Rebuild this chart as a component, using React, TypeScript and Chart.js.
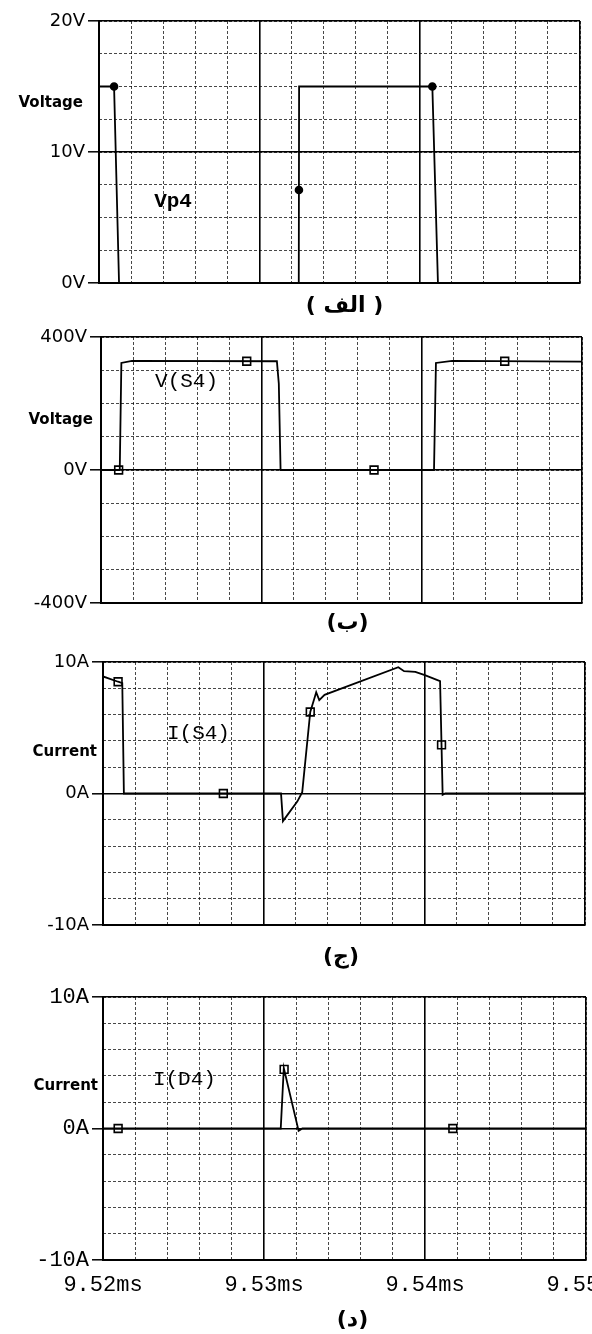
import React, { useEffect, useRef } from 'react';
import { Chart, registerables } from 'chart.js';

Chart.register(...registerables);

// ---------- shared time axis (ms) ----------
const timeMin = 9.52;
const timeMax = 9.55;
const timeTicks = [9.52, 9.53, 9.54, 9.55];
const timeMinorTicks = [9.52, 9.522, 9.524, 9.526, 9.528, 9.53, 9.532, 9.534, 9.536, 9.538, 9.54, 9.542, 9.544, 9.546, 9.548, 9.55];

// ---------- (الف) gate voltage Vp4 ----------
const vp4Time = [9.52, 9.52094, 9.52125, 9.53246, 9.53248, 9.54079, 9.54114, 9.55];
const vp4Volts = [15, 15, 0, 0, 15, 15, 0, 0];
const vp4MarkerTime = [9.52094, 9.53247, 9.54079];
const vp4MarkerVolts = [15, 7.1, 15];
const vp4Ticks = [0, 10, 20];
const vp4MinorTicks = [0, 2.5, 5, 7.5, 10, 12.5, 15, 17.5, 20];

// ---------- (ب) switch voltage V(S4) ----------
const vs4Time = [9.52, 9.52117, 9.52127, 9.52193, 9.53097, 9.53109, 9.5312, 9.54077, 9.54089, 9.5419, 9.55];
const vs4Volts = [0, 0, 322, 328, 327, 260, 0, 0, 322, 328, 326];
const vs4MarkerTime = [9.5211, 9.52909, 9.53703, 9.54518];
const vs4MarkerVolts = [0, 327, 0, 327];
const vs4Ticks = [-400, 0, 400];
const vs4MinorTicks = [-400, -300, -200, -100, 0, 100, 200, 300, 400];

// ---------- (ج) switch current I(S4) ----------
const is4Time = [9.52, 9.52094, 9.5212, 9.5213, 9.53108, 9.5312, 9.5321, 9.5324, 9.5329, 9.53315, 9.53327, 9.53346, 9.53379, 9.53838, 9.53874, 9.53944, 9.54003, 9.54098, 9.54114, 9.5413, 9.55];
const is4Amps = [8.9, 8.5, 8.4, 0, 0, -2.1, -0.6, 0.1, 6.2, 7.2, 7.7, 7.1, 7.5, 9.6, 9.3, 9.25, 9.0, 8.55, -0.1, 0, 0];
const is4MarkerTime = [9.52094, 9.52749, 9.5329, 9.54107];
const is4MarkerAmps = [8.5, 0, 6.2, 3.7];
const is4Ticks = [-10, 0, 10];
const is4MinorTicks = [-10, -8, -6, -4, -2, 0, 2, 4, 6, 8, 10];

// ---------- (د) diode current I(D4) ----------
const id4Time = [9.52, 9.53104, 9.53123, 9.53215, 9.53238, 9.55];
const id4Amps = [0, 0, 4.6, -0.18, 0, 0];
const id4MarkerTime = [9.52094, 9.53125, 9.54173];
const id4MarkerAmps = [0, 4.5, 0];
const id4Ticks = [-10, 0, 10];
const id4MinorTicks = [-10, -8, -6, -4, -2, 0, 2, 4, 6, 8, 10];

const INK = '#000';
const SANS = '"DejaVu Sans", sans-serif';
const MONO = '"Liberation Mono", "DejaVu Sans Mono", monospace';
const CANVAS_W = 640;

const decorPlugin = {
  id: 'decor',
  afterDraw(chart: any, _args: any, opts: any) {
    const { ctx, chartArea, scales } = chart;
    ctx.save();
    ctx.fillStyle = INK;
    // horizontal axis title
    ctx.font = `bold 15px ${SANS}`;
    ctx.textAlign = 'right';
    ctx.textBaseline = 'middle';
    ctx.fillText(opts.axisTitle, opts.axisTitleRight, chartArea.top + opts.axisTitleDy);
    // trace name
    ctx.font = opts.traceFont;
    ctx.textAlign = 'left';
    ctx.fillText(
      opts.traceLabel,
      scales.x.getPixelForValue(opts.traceAtX),
      scales.y.getPixelForValue(opts.traceAtY)
    );
    // caption
    ctx.font = `bold 22px ${SANS}`;
    ctx.textAlign = 'center';
    ctx.fillText(
      opts.caption,
      (chartArea.left + chartArea.right) / 2 + opts.captionDx,
      chartArea.bottom + opts.captionDy
    );
    ctx.restore();
  },
};

type PanelCfg = {
  time: number[];
  values: number[];
  markerTime: number[];
  markerValues: number[];
  ticks: number[];
  minorTicks: number[];
  unit: string;
  markerStyle: string;
  markerRadius: number;
  markerFill: string;
  canvasTop: number;
  canvasHeight: number;
  left: number;
  right: number;
  padTop: number;
  padBottom: number;
  showTime: boolean;
  yFont: any;
  axisTitle: string;
  axisTitleRight: number;
  axisTitleDy: number;
  traceLabel: string;
  traceFont: string;
  traceAtX: number;
  traceAtY: number;
  caption: string;
  captionDx: number;
  captionDy: number;
};

const setTicks = (arr: number[]) => (scale: any) => {
  scale.ticks = arr.map((v) => ({ value: v }));
};

function makeConfig(p: PanelCfg): any {
  const yMin = p.ticks[0];
  const yMax = p.ticks[p.ticks.length - 1];
  const minorGrid = { color: 'rgba(0,0,0,0.72)', lineWidth: 1, drawTicks: false };
  const minorBorder = { display: false, dash: [3, 2] };
  return {
    type: 'scatter',
    data: {
      datasets: [
        {
          data: p.time.map((t, i) => ({ x: t, y: p.values[i] })),
          showLine: true,
          borderColor: INK,
          borderWidth: 1.8,
          pointRadius: 0,
          tension: 0,
          xAxisID: 'x',
          yAxisID: 'y',
        },
        {
          data: p.markerTime.map((t, i) => ({ x: t, y: p.markerValues[i] })),
          showLine: false,
          pointStyle: p.markerStyle,
          pointRadius: p.markerRadius,
          borderColor: INK,
          backgroundColor: p.markerFill,
          borderWidth: 1.6,
          xAxisID: 'x',
          yAxisID: 'y',
        },
      ],
    },
    options: {
      responsive: false,
      animation: false,
      events: [],
      layout: { padding: { top: p.padTop, bottom: p.padBottom, left: 0, right: CANVAS_W - p.right } },
      plugins: {
        legend: { display: false },
        tooltip: { enabled: false },
        decor: {
          axisTitle: p.axisTitle,
          axisTitleRight: p.axisTitleRight,
          axisTitleDy: p.axisTitleDy,
          traceLabel: p.traceLabel,
          traceFont: p.traceFont,
          traceAtX: p.traceAtX,
          traceAtY: p.traceAtY,
          caption: p.caption,
          captionDx: p.captionDx,
          captionDy: p.captionDy,
        },
      },
      scales: {
        x: {
          type: 'linear',
          position: 'bottom',
          min: timeMin,
          max: timeMax,
          afterBuildTicks: setTicks(timeTicks),
          afterFit: p.showTime ? (s: any) => { s.height = 40; } : undefined,
          ticks: {
            display: p.showTime,
            autoSkip: false,
            maxRotation: 0,
            padding: 12,
            color: INK,
            font: { family: MONO, size: 22 },
            callback: (v: number) => `${Number(v).toFixed(2)}ms`,
          },
          grid: { color: INK, lineWidth: 1.6, drawTicks: false },
          border: { display: true, color: INK, width: 2 },
        },
        xMinor: {
          type: 'linear',
          position: 'top',
          min: timeMin,
          max: timeMax,
          afterBuildTicks: setTicks(timeMinorTicks),
          ticks: { display: false, autoSkip: false },
          grid: minorGrid,
          border: minorBorder,
        },
        y: {
          type: 'linear',
          position: 'left',
          min: yMin,
          max: yMax,
          afterBuildTicks: setTicks(p.ticks),
          afterFit: (s: any) => { s.width = p.left; },
          ticks: {
            autoSkip: false,
            padding: 3,
            color: INK,
            font: p.yFont,
            callback: (v: number) => `${v}${p.unit}`,
          },
          grid: { color: INK, lineWidth: 1.6, drawTicks: true, tickLength: 11, tickColor: INK, tickWidth: 1.5 },
          border: { display: true, color: INK, width: 2 },
        },
        yMinor: {
          type: 'linear',
          position: 'right',
          min: yMin,
          max: yMax,
          afterBuildTicks: setTicks(p.minorTicks),
          ticks: { display: false, autoSkip: false },
          grid: minorGrid,
          border: minorBorder,
        },
      },
    },
    plugins: [decorPlugin],
  };
}

const panels: PanelCfg[] = [
  {
    time: vp4Time, values: vp4Volts, markerTime: vp4MarkerTime, markerValues: vp4MarkerVolts,
    ticks: vp4Ticks, minorTicks: vp4MinorTicks, unit: 'V',
    markerStyle: 'circle', markerRadius: 3.5, markerFill: INK,
    canvasTop: 0, canvasHeight: 330, left: 99, right: 580, padTop: 21, padBottom: 47, showTime: false,
    yFont: { family: SANS, size: 18 },
    axisTitle: 'Voltage', axisTitleRight: 83, axisTitleDy: 82,
    traceLabel: 'Vp4', traceFont: `bold 21px ${MONO}`, traceAtX: 9.52344, traceAtY: 6.2,
    caption: '( الف )', captionDx: 5, captionDy: 23,
  },
  {
    time: vs4Time, values: vs4Volts, markerTime: vs4MarkerTime, markerValues: vs4MarkerVolts,
    ticks: vs4Ticks, minorTicks: vs4MinorTicks, unit: 'V',
    markerStyle: 'rect', markerRadius: 5.5, markerFill: 'rgba(255,255,255,0)',
    canvasTop: 310, canvasHeight: 340, left: 101, right: 582, padTop: 27, padBottom: 47, showTime: false,
    yFont: { family: SANS, size: 18 },
    axisTitle: 'Voltage', axisTitleRight: 93, axisTitleDy: 83,
    traceLabel: 'V(S4)', traceFont: `21px ${MONO}`, traceAtX: 9.52337, traceAtY: 265,
    caption: '(ب)', captionDx: 6, captionDy: 20,
  },
  {
    time: is4Time, values: is4Amps, markerTime: is4MarkerTime, markerValues: is4MarkerAmps,
    ticks: is4Ticks, minorTicks: is4MinorTicks, unit: 'A',
    markerStyle: 'rect', markerRadius: 5.5, markerFill: 'rgba(255,255,255,0)',
    canvasTop: 640, canvasHeight: 340, left: 103, right: 585, padTop: 22, padBottom: 55, showTime: false,
    yFont: { family: SANS, size: 18 },
    axisTitle: 'Current', axisTitleRight: 97, axisTitleDy: 90,
    traceLabel: 'I(S4)', traceFont: `21px ${MONO}`, traceAtX: 9.52398, traceAtY: 4.6,
    caption: '(ج)', captionDx: -3, captionDy: 32,
  },
  {
    time: id4Time, values: id4Amps, markerTime: id4MarkerTime, markerValues: id4MarkerAmps,
    ticks: id4Ticks, minorTicks: id4MinorTicks, unit: 'A',
    markerStyle: 'rect', markerRadius: 5.5, markerFill: 'rgba(255,255,255,0)',
    canvasTop: 975, canvasHeight: 359, left: 103, right: 586, padTop: 22, padBottom: 34, showTime: true,
    yFont: { family: MONO, size: 22 },
    axisTitle: 'Current', axisTitleRight: 98, axisTitleDy: 89,
    traceLabel: 'I(D4)', traceFont: `21px ${MONO}`, traceAtX: 9.5231, traceAtY: 3.7,
    caption: '(د)', captionDx: 8, captionDy: 60,
  },
];

function Panel({ cfg }: { cfg: PanelCfg }) {
  const ref = useRef<HTMLCanvasElement>(null);
  useEffect(() => {
    const chart = new Chart(ref.current as HTMLCanvasElement, makeConfig(cfg));
    return () => chart.destroy();
  }, [cfg]);
  return (
    <canvas
      ref={ref}
      width={CANVAS_W}
      height={cfg.canvasHeight}
      style={{ position: 'absolute', left: 0, top: cfg.canvasTop, width: CANVAS_W, height: cfg.canvasHeight, display: 'block' }}
    />
  );
}

export default function App() {
  return (
    <div style={{ position: 'absolute', left: 0, top: 0, width: 592, height: 1334, overflow: 'hidden', background: '#fff' }}>
      {panels.map((p, i) => (
        <Panel key={i} cfg={p} />
      ))}
    </div>
  );
}
